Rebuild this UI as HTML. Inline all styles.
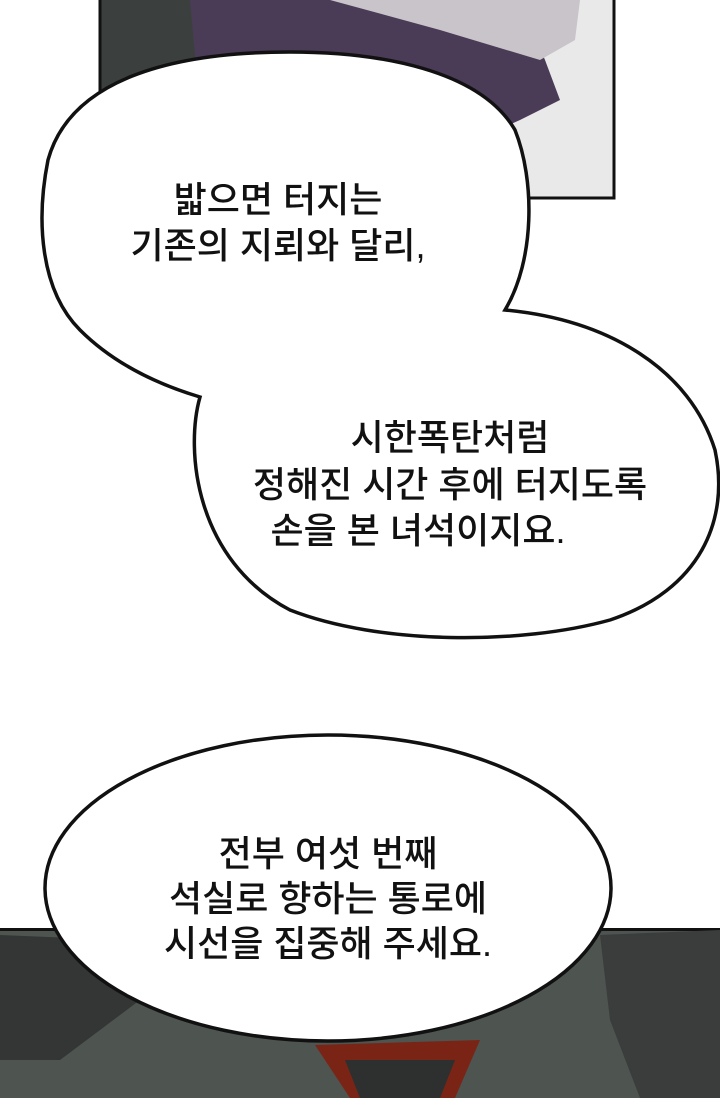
<!DOCTYPE html>
<html><head><meta charset="utf-8"><style>
html,body{margin:0;padding:0;background:#fff;}
body{width:720px;height:1098px;position:relative;overflow:hidden;}
svg{position:absolute;left:0;top:0;}
text{font-family:"Liberation Sans","Noto Sans CJK KR",sans-serif;font-size:36px;fill:#111;text-anchor:middle;font-weight:500;}
</style></head><body>
<svg width="720" height="1098" viewBox="0 0 720 1098">
<!-- top panel -->
<rect x="100" y="0" width="514" height="198" fill="#e9e9ea"/>
<rect x="100" y="0" width="110" height="198" fill="#3b403e"/>
<path d="M190 0 L520 0 L545 60 L560 100 L520 120 L430 160 L300 170 L200 110 Z" fill="#4a3b57"/>
<path d="M330 0 L580 0 L575 40 L540 60 L440 30 Z" fill="#c8c4c9"/>
<path d="M100 0 V198 H614 V0" fill="none" stroke="#111" stroke-width="3"/>
<!-- bottom panel -->
<rect x="0" y="928" width="720" height="170" fill="#4e5450"/>
<rect x="0" y="928" width="720" height="3" fill="#111"/>
<path d="M0 935 L120 940 L140 1000 L60 1060 L0 1060Z" fill="#333634"/>
<path d="M600 935 L720 930 L720 1098 L640 1098 L610 1020Z" fill="#3a3d3b"/>
<path d="M315 1045 L350 1098 L455 1098 L480 1040 Z" fill="#7a2416"/>
<path d="M345 1060 L360 1098 L440 1098 L455 1060 Z" fill="#2d302e"/>
<!-- bubble 1 -->
<path d="M505 310 C535 260 535 180 515 130 C480 70 380 52 290 52 C170 52 70 80 48 160 C36 220 40 290 80 330 C115 365 160 385 200 397 C185 450 195 560 290 610 C380 645 520 645 610 620 C700 590 730 520 715 450 C690 370 610 320 505 310 Z" fill="#fff" stroke="#111" stroke-width="3.5"/>
<text x="278" y="212">밟으면 터지는</text>
<text x="278" y="258">기존의 지뢰와 달리,</text>
<text x="450" y="450">시한폭탄처럼</text>
<text x="450" y="497">정해진 시간 후에 터지도록</text>
<text x="418" y="543">손을 본 녀석이지요.</text>
<!-- bubble 2 -->
<ellipse cx="328" cy="888" rx="283" ry="153" fill="#fff" stroke="#111" stroke-width="3.5"/>
<text x="328" y="866">전부 여섯 번째</text>
<text x="328" y="911">석실로 향하는 통로에</text>
<text x="328" y="956">시선을 집중해 주세요.</text>
</svg>
</body></html>
